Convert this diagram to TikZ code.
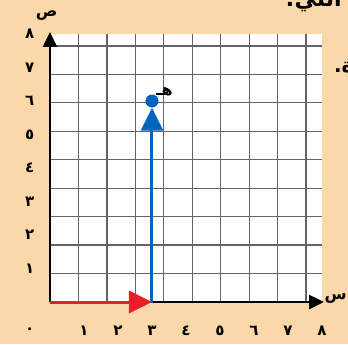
\documentclass[tikz,border=0pt]{standalone}
\usepackage{fontspec}
\newfontfamily\arabicfont[Script=Arabic]{DejaVu Sans}
\TeXXeTstate=1
\usetikzlibrary{arrows.meta}
\definecolor{PaperBG}{RGB}{250,216,170}
\definecolor{VecBlue}{RGB}{0,100,190}
\definecolor{VecRed}{RGB}{232,30,40}
\definecolor{GridGray}{RGB}{100,100,100}
\begin{document}
\begin{tikzpicture}[x=34pt,y=33.5pt,
  numlbl/.style={font=\arabicfont\fontsize{15}{17}\selectfont\bfseries,inner sep=0pt},
  axislbl/.style={font=\arabicfont\fontsize{16}{18}\selectfont\bfseries,inner sep=0pt},
  axisline/.style={line width=2.4pt,-{Triangle[length=15pt,width=14pt]}},
  vecline/.style={line width=3pt,-{Triangle[length=23pt,width=22pt]}},
]
\useasboundingbox (-1.47,-1.254) rectangle (8.765,9.015);
\clip (-1.47,-1.254) rectangle (8.765,9.015);
\fill[PaperBG] (-1.47,-1.254) rectangle (8.765,9.015);
\fill[white] (0,0) rectangle (8,8);
\draw[GridGray,line width=1.3pt] (0,0) grid (8,8);
\coordinate (O) at (0,0);
\coordinate (xend) at (8.06,0);
\coordinate (yend) at (0,8.06);
\coordinate (A) at (3,0);
\coordinate (Abot) at (3,-0.02);
\node[circle,fill=VecBlue,inner sep=0pt,minimum size=13pt] (H) at (3,6) {};
\draw[axisline] (O) -- (xend);
\draw[axisline] (O) -- (yend);
\draw[vecline,VecBlue] (Abot) -- (H.south);
\draw[vecline,VecRed] (O) -- (A);
\node[axislbl,anchor=south west] (hlbl) at (3.12,6.15) {\beginR هـ\endR};
\node[axislbl] (ylbl) at (-0.1,8.55) {\beginR ص\endR};
\node[axislbl] (xlbl) at (8.4,0.1) {\beginR س\endR};
\node[numlbl] (x0) at (-0.6,-0.85) {٠};
\foreach \k/\d in {1/١,2/٢,3/٣,4/٤,5/٥,6/٦,7/٧,8/٨}{
  \node[numlbl] (x\k) at (\k,-0.85) {\d};
  \node[numlbl] (y\k) at (-0.6,\k) {\d};
}
\node[font=\arabicfont\fontsize{22}{24}\selectfont\bfseries,anchor=south east,inner sep=0pt] (toptxt) at (9.4,8.65) {\beginR ي التي:\endR};
\node[font=\arabicfont\fontsize{20}{22}\selectfont\bfseries,anchor=west,inner sep=0pt] (sidetxt) at (8.35,7.0) {\beginR ة.\endR};
\end{tikzpicture}
\end{document}
